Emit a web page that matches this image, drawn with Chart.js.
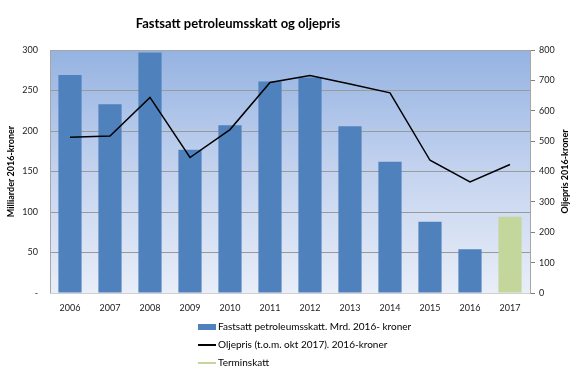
<!DOCTYPE html>
<html>
<head>
<meta charset="utf-8">
<script src="https://cdn.jsdelivr.net/npm/chart.js@4"></script>
<style>
  html, body { margin: 0; padding: 0; background: #fff; }
  #wrap { width: 579px; height: 375px; }
</style>
</head>
<body>
<div id="wrap"><canvas id="chart" width="579" height="375"></canvas></div>
<script>
const years = ['2006', '2007', '2008', '2009', '2010', '2011', '2012', '2013', '2014', '2015', '2016', '2017'];
const skatt = [269, 233, 297, 177, 207, 261, 266, 206, 162, 88, 54, null];
const terminskatt = [null, null, null, null, null, null, null, null, null, null, null, 94];
const oljepris = [513, 517, 644, 446, 538, 693, 716, 688, 659, 437, 366, 423];
const leftTicks = [0, 50, 100, 150, 200, 250, 300];

const FONT = 'Lato, "Liberation Sans", sans-serif';

// bakgrunn i plottområdet + tittel + legend
const decor = {
    id: 'decor',
    beforeDraw(chart) {
        const { ctx, chartArea: a } = chart;
        const g = ctx.createLinearGradient(0, a.top, 0, a.bottom);
        g.addColorStop(0, '#95b3e1');
        g.addColorStop(0.5, '#c4d3ef');
        g.addColorStop(1, '#e9eef8');
        ctx.save();
        ctx.fillStyle = g;
        ctx.fillRect(a.left, a.top, a.right - a.left, a.bottom - a.top);
        ctx.restore();
    },
    afterDraw(chart) {
        const { ctx, chartArea: a } = chart;
        ctx.save();
        ctx.strokeStyle = '#a6a6a6';
        ctx.lineWidth = 1;
        ctx.beginPath();
        ctx.moveTo(a.left + 0.5, a.bottom);
        ctx.lineTo(a.left + 0.5, a.top + 0.5);
        ctx.lineTo(a.right, a.top + 0.5);
        ctx.stroke();

        ctx.fillStyle = '#000';
        ctx.font = 'bold 13px ' + FONT;
        ctx.textAlign = 'center';
        ctx.textBaseline = 'middle';
        ctx.fillText('Fastsatt petroleumsskatt og oljepris', 238, 24);

        // høyre aksetittel, lest nedenfra og opp
        ctx.save();
        ctx.translate(565, (a.top + a.bottom) / 2);
        ctx.rotate(-Math.PI / 2);
        ctx.font = 'bold 9px ' + FONT;
        ctx.fillText('Oljepris 2016-kroner', 0, 0);
        ctx.restore();

        // legend, en rad per serie
        ctx.font = '10px ' + FONT;
        ctx.textAlign = 'left';
        const order = [0, 2, 1];
        order.forEach((idx, i) => {
            const ds = chart.data.datasets[idx];
            const y = 327 + i * 18;
            if (ds.type === 'line' || idx === 1) {
                ctx.strokeStyle = ds.type === 'line' ? ds.borderColor : ds.backgroundColor;
                ctx.lineWidth = 2;
                ctx.beginPath();
                ctx.moveTo(198, y);
                ctx.lineTo(216, y);
                ctx.stroke();
            } else {
                ctx.fillStyle = ds.backgroundColor;
                ctx.fillRect(198, y - 3, 18, 6);
            }
            ctx.fillStyle = '#000';
            ctx.fillText(ds.label, 218, y);
        });
        ctx.restore();
    }
};

new Chart(document.getElementById('chart'), {
    data: {
        labels: years,
        datasets: [{
            type: 'bar',
            label: 'Fastsatt petroleumsskatt. Mrd. 2016- kroner',
            data: skatt,
            backgroundColor: '#4f81bd',
            yAxisID: 'y',
            grouped: false,
            categoryPercentage: 1,
            barPercentage: 0.58,
            order: 2
        }, {
            type: 'bar',
            label: 'Terminskatt',
            data: terminskatt,
            backgroundColor: '#c3d69b',
            yAxisID: 'y',
            grouped: false,
            categoryPercentage: 1,
            barPercentage: 0.58,
            order: 2
        }, {
            type: 'line',
            label: 'Oljepris (t.o.m. okt 2017). 2016-kroner',
            data: oljepris,
            borderColor: '#000',
            borderWidth: 1.5,
            pointRadius: 0,
            tension: 0,
            yAxisID: 'y1',
            order: 1
        }]
    },
    options: {
        responsive: false,
        animation: false,
        layout: { padding: { top: 50, bottom: 62, left: 0, right: 0 } },
        plugins: {
            legend: { display: false },
            title: { display: false },
            tooltip: { enabled: false }
        },
        scales: {
            x: {
                grid: { display: false },
                border: { color: '#d0d0d0' },
                ticks: { color: '#222', font: { family: FONT, size: 9 }, padding: 2 },
                afterFit(s) { s.height = 20; }
            },
            y: {
                position: 'left',
                min: 0,
                max: 300,
                afterBuildTicks(s) { s.ticks = leftTicks.map(v => ({ value: v })); },
                grid: { color: '#9a9a9a', drawTicks: false },
                border: { display: false },
                ticks: {
                    color: '#222',
                    font: { family: FONT, size: 9 },
                    padding: 12,
                    callback: v => v === 0 ? '-' : v
                },
                title: {
                    display: true,
                    text: 'Milliarder 2016-kroner',
                    color: '#000',
                    font: { family: FONT, size: 9, weight: 'bold' },
                    padding: { top: 6, bottom: 0 }
                },
                afterFit(s) { s.width = 50; }
            },
            y1: {
                position: 'right',
                min: 0,
                max: 800,
                grid: { drawOnChartArea: false, drawTicks: true, tickLength: 5, color: '#808080' },
                border: { color: '#a6a6a6' },
                ticks: {
                    stepSize: 100,
                    color: '#222',
                    font: { family: FONT, size: 9 },
                    padding: 4
                },
                afterFit(s) { s.width = 49; }
            }
        }
    },
    plugins: [decor]
});
</script>
</body>
</html>
